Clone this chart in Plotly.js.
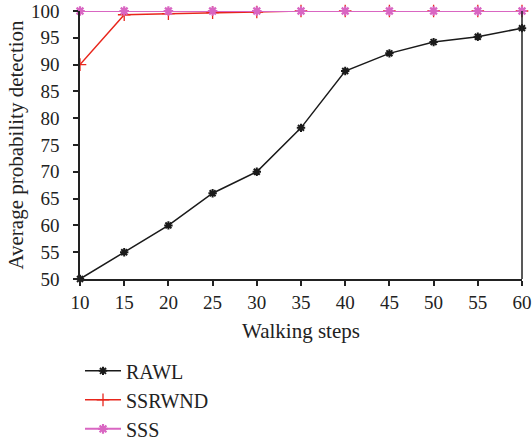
<!DOCTYPE html>
<html><head><meta charset="utf-8">
<script src="https://cdn.plot.ly/plotly-3.0.1.min.js"></script>
<style>html,body{margin:0;padding:0;background:#fff}</style>
</head><body><div id="chart" style="width:532px;height:440px"></div>
<script>
const steps = [10, 15, 20, 25, 30, 35, 40, 45, 50, 55, 60];
const rawl = [50, 55, 60, 66, 70, 78.2, 88.8, 92.1, 94.2, 95.2, 96.8];
const ssrwnd = [90, 99.3, 99.5, 99.7, 99.8, 100, 100, 100, 100, 100, 100];
const sss = [100, 100, 100, 100, 100, 100, 100, 100, 100, 100, 100];
const xTicks = [10, 15, 20, 25, 30, 35, 40, 45, 50, 55, 60];
const yTicks = [50, 55, 60, 65, 70, 75, 80, 85, 90, 95, 100];

const font = "Liberation Serif, serif";
const traces = [
  {x: steps, y: rawl, name: 'RAWL', mode: 'lines+markers', cliponaxis: false,
   line: {color: '#1a1a1a', width: 1.5},
   marker: {symbol: 'asterisk-open', size: 7, color: '#1a1a1a', line: {color: '#1a1a1a', width: 2}}},
  {x: steps, y: ssrwnd, name: 'SSRWND', mode: 'lines+markers', cliponaxis: false,
   line: {color: '#e8261c', width: 1.5},
   marker: {symbol: 'cross-thin-open', size: 9, color: '#e8261c', line: {color: '#e8261c', width: 1.3}}},
  {x: steps, y: sss, name: 'SSS', mode: 'lines+markers', cliponaxis: false,
   line: {color: '#d966c2', width: 2},
   marker: {symbol: 'asterisk-open', size: 8, color: '#d966c2', line: {color: '#cc55b5', width: 2.2}}}
];
const layout = {
  width: 532, height: 440,
  margin: {l: 80, r: 10, t: 11, b: 161, autoexpand: false},
  paper_bgcolor: '#fff', plot_bgcolor: '#fff',
  font: {family: font, size: 19, color: '#222'},
  showlegend: true,
  legend: {x: 0.0, y: -0.27, xanchor: 'left', yanchor: 'top', orientation: 'v', itemwidth: 36,
           font: {family: font, size: 20, color: '#222'}, bgcolor: 'rgba(0,0,0,0)'},
  xaxis: {range: [10, 60], tickvals: xTicks, ticktext: xTicks.map(String),
          showgrid: false, zeroline: false, showline: true, linecolor: '#222', linewidth: 1.5,
          ticks: 'outside', ticklen: 5, tickcolor: '#222', tickwidth: 1.5, ticklabeloverflow: 'allow',
          tickfont: {family: font, size: 19, color: '#222'},
          title: {text: 'Walking steps', font: {family: font, size: 21, color: '#222'}, standoff: 12}},
  yaxis: {range: [50, 100], tickvals: yTicks, ticktext: yTicks.map(String),
          showgrid: false, zeroline: false, showline: true, linecolor: '#222', linewidth: 1.5,
          ticks: 'outside', ticklen: 5, tickcolor: '#222', tickwidth: 1.5, ticklabeloverflow: 'allow',
          ticklabelstandoff: 10,
          tickfont: {family: font, size: 19, color: '#222'},
          title: {text: 'Average probability detection', font: {family: font, size: 21, color: '#222'}, standoff: 2}},
  shapes: [{type: 'line', xref: 'paper', yref: 'paper', x0: 1, x1: 1, y0: 0, y1: 1,
            line: {color: '#222', width: 1.5}}]
};
Plotly.newPlot('chart', traces, layout, {displayModeBar: false});
</script></body></html>
